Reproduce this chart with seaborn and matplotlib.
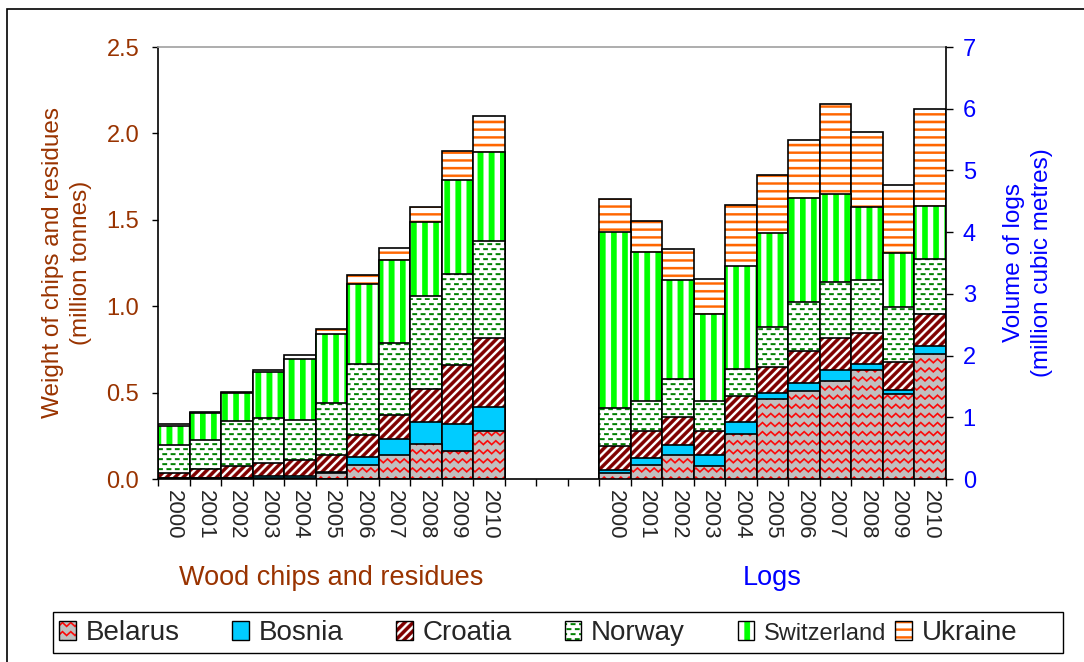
import numpy as np
import pandas as pd
import matplotlib
matplotlib.use('Agg')
import matplotlib.pyplot as plt
import matplotlib.hatch as mhatch
import matplotlib.patches as mpatches
import matplotlib.transforms as mtransforms
from matplotlib.colors import to_rgba
from matplotlib.path import Path
import seaborn as sns

years = [str(y) for y in range(2000, 2011)]
countries = ['Belarus', 'Bosnia', 'Croatia', 'Norway', 'Switzerland', 'Ukraine']

# wood chips and residues (million tonnes)
chips_belarus = [0.005, 0.005, 0.005, 0.003, 0.005, 0.035, 0.083, 0.14, 0.20, 0.164, 0.279]
chips_bosnia = [0.0, 0.0, 0.0, 0.017, 0.012, 0.008, 0.046, 0.091, 0.13, 0.154, 0.135]
chips_croatia = [0.03, 0.05, 0.068, 0.072, 0.094, 0.096, 0.125, 0.14, 0.19, 0.342, 0.404]
chips_norway = [0.16, 0.17, 0.26, 0.26, 0.23, 0.30, 0.414, 0.418, 0.54, 0.528, 0.558]
chips_switzerland = [0.11, 0.155, 0.167, 0.27, 0.355, 0.40, 0.458, 0.477, 0.426, 0.544, 0.514]
chips_ukraine = [0.012, 0.005, 0.004, 0.008, 0.02, 0.03, 0.052, 0.068, 0.09, 0.169, 0.212]

# logs (million cubic metres)
logs_belarus = [0.09, 0.226, 0.39, 0.205, 0.727, 1.29, 1.43, 1.59, 1.76, 1.37, 2.03]
logs_bosnia = [0.06, 0.113, 0.157, 0.183, 0.189, 0.10, 0.12, 0.17, 0.11, 0.08, 0.13]
logs_croatia = [0.39, 0.442, 0.457, 0.393, 0.431, 0.43, 0.52, 0.52, 0.50, 0.44, 0.51]
logs_norway = [0.61, 0.48, 0.62, 0.48, 0.442, 0.65, 0.80, 0.92, 0.86, 0.89, 0.89]
logs_switzerland = [2.86, 2.414, 1.605, 1.406, 1.665, 1.51, 1.68, 1.41, 1.18, 0.88, 0.87]
logs_ukraine = [0.53, 0.50, 0.50, 0.571, 0.981, 0.95, 0.95, 1.46, 1.21, 1.10, 1.56]

chips_slots = list(range(11))
logs_slots = list(range(14, 25))

faces = ['#C0C0C0', '#00CCFF', 'white', 'white', 'white', 'white']
hatches = ['x', None, '/', '.', '|', '-']
hatch_colors = ['#FF0000', '#00CCFF', '#800000', '#008000', '#00FF00', '#FF6600']

brown = '#993300'
blue = '#0000FF'


# excel-like fill patterns, drawn as filled shapes in the 1-inch hatch cell
class PolyHatch:
    char = ''

    def __init__(self, hatch, density):
        self.polys = self.shapes() if (hatch and self.char in hatch) else []
        self.num_vertices = sum(len(p) + 1 for p in self.polys)

    def shapes(self):
        return []

    def set_vertices_and_codes(self, vertices, codes):
        i = 0
        for p in self.polys:
            n = len(p)
            vertices[i:i + n] = p
            vertices[i + n] = p[0]
            codes[i] = Path.MOVETO
            codes[i + 1:i + n] = Path.LINETO
            codes[i + n] = Path.CLOSEPOLY
            i += n + 1


class VStripes(PolyHatch):
    char = '|'

    def shapes(self):
        n, w = 9, 0.055
        return [[(k / n, -0.01), (k / n + w, -0.01), (k / n + w, 1.01), (k / n, 1.01)]
                for k in range(n)]


class HStripes(PolyHatch):
    char = '-'

    def shapes(self):
        n, t = 13, 0.022
        return [[(-0.01, k / n), (1.01, k / n), (1.01, k / n + t), (-0.01, k / n + t)]
                for k in range(n)]


class DiagStripes(PolyHatch):
    char = '/'

    def shapes(self):
        n, w, e = 12, 0.045, 0.02
        out = []
        for k in range(-n - 1, n + 1):
            c = k / n
            out.append([(c - e, -e), (c + w - e, -e), (c + w + 1 + e, 1 + e), (c + 1 + e, 1 + e)])
        return out


class Dashes(PolyHatch):
    char = '.'

    def shapes(self):
        rows, cols, L, T = 20, 12, 0.045, 0.018
        out = []
        for r in range(rows):
            y = r / rows
            off = 0.5 / cols if r % 2 else 0
            for c in range(-1, cols + 1):
                x = c / cols + off
                out.append([(x, y), (x + L, y), (x + L, y + T), (x, y + T)])
        return out


class Zigzag(PolyHatch):
    char = 'x'

    def shapes(self):
        rows, per, amp, t = 11, 12, 0.038, 0.018
        xs = np.arange(-2, 2 * per + 3) / (2 * per)
        out = []
        for r in range(rows):
            y0 = r / rows
            lower = [(x, y0 + (amp if i % 2 else 0)) for i, x in enumerate(xs)]
            upper = [(x, y + t) for x, y in reversed(lower)]
            out.append(lower + upper)
        return out


mhatch._hatch_types = [VStripes, HStripes, DiagStripes, Dashes, Zigzag]


def set_hatch_color(p, c):
    if hasattr(p, 'set_hatchcolor'):
        p.set_hatchcolor(c)
    else:
        p._hatch_color = to_rgba(c)


sns.set_style('white')
plt.rcParams['font.family'] = ['Liberation Sans', 'DejaVu Sans']
plt.rcParams['hatch.linewidth'] = 0.2

fig = plt.figure(figsize=(10.84, 6.62), dpi=100)
ax1 = fig.add_axes([158 / 1084, 1 - 479 / 662, 788 / 1084, 432 / 662])
ax2 = ax1.twinx()


def draw_stack(ax, slots, series):
    df = pd.DataFrame({'slot': slots})
    cum = np.cumsum(np.array(series), axis=0)
    for i in reversed(range(len(countries))):
        df['top'] = cum[i]
        sns.barplot(data=df, x='slot', y='top', native_scale=True, width=1,
                    color=faces[i], saturation=1, edgecolor='black', linewidth=1.2,
                    hatch=hatches[i], errorbar=None, ax=ax)
        for bar in ax.containers[-1]:
            set_hatch_color(bar, hatch_colors[i])


draw_stack(ax1, chips_slots, [chips_belarus, chips_bosnia, chips_croatia,
                              chips_norway, chips_switzerland, chips_ukraine])
draw_stack(ax2, logs_slots, [logs_belarus, logs_bosnia, logs_croatia,
                             logs_norway, logs_switzerland, logs_ukraine])

ax1.set_xlim(-0.5, 24.5)
ax1.set_ylim(0, 2.5)
ax2.set_ylim(0, 7)
ax1.set_xlabel('')
ax2.set_xlabel('')

ax1.set_xticks(np.arange(-0.5, 25, 1))
ax1.set_xticklabels([])
ax1.set_xticks(chips_slots + logs_slots, labels=years + years, minor=True)
ax1.tick_params(axis='x', which='major', direction='out', length=5, width=1, color='black', bottom=True)
ax1.tick_params(axis='x', which='minor', length=0, pad=8, labelsize=16, labelrotation=-90)

ax1.set_yticks(np.arange(0, 2.51, 0.5))
ax1.set_yticklabels([f'{v:.1f}' for v in np.arange(0, 2.51, 0.5)])
ax1.tick_params(axis='y', direction='out', length=4.5, width=1, color='black', left=True,
                labelsize=17, labelcolor=brown, pad=9)
ax2.set_yticks(range(8))
ax2.tick_params(axis='y', direction='out', length=5, width=1, color='black', right=True,
                labelsize=17, labelcolor=blue, pad=7)

for name, sp in ax1.spines.items():
    sp.set_color('black')
    sp.set_linewidth(1.2)
ax1.spines['top'].set_color('#A0A0A0')
ax1.spines['right'].set_visible(False)
for name in ['left', 'top', 'bottom']:
    ax2.spines[name].set_visible(False)
ax2.spines['right'].set_color('black')
ax2.spines['right'].set_linewidth(1.2)

ax1.set_ylabel('Weight of chips and residues\n(million tonnes)', fontsize=17.5,
               color=brown, linespacing=1.4, va='center')
ax1.yaxis.set_label_coords((67 - 158) / 788, 0.5)
ax2.set_ylabel('Volume of logs\n(million cubic metres)', fontsize=17.5,
               color=blue, linespacing=1.4, rotation=90, va='center')
ax2.yaxis.set_label_coords((1028 - 158) / 788, 0.5)

trans = mtransforms.blended_transform_factory(ax1.transData, ax1.transAxes)
ax1.text(np.mean(chips_slots), -0.23, 'Wood chips and residues', transform=trans,
         ha='center', va='center', fontsize=19.5, color=brown)
ax1.text(np.mean(logs_slots), -0.23, 'Logs', transform=trans,
         ha='center', va='center', fontsize=19.5, color=blue)

handles = []
for i, c in enumerate(countries):
    h = mpatches.Patch(facecolor=faces[i], edgecolor='black', linewidth=1, hatch=hatches[i], label=c)
    set_hatch_color(h, hatch_colors[i])
    handles.append(h)

# legend: first five entries in one row, Ukraine squeezed in after Switzerland
leg_kw = dict(fontsize=20, frameon=False, borderaxespad=0, borderpad=0,
              handlelength=0.6, handleheight=0.65, handletextpad=0.35)
leg1 = fig.legend(handles=handles[:5], loc='center left', ncol=5, columnspacing=1.9,
                  bbox_to_anchor=(59 / 1084, 1 - 633 / 662), **leg_kw)
leg1.get_texts()[4].set_fontsize(17)
fig.legend(handles=handles[5:], loc='center left',
           bbox_to_anchor=(895 / 1084, 1 - 633 / 662), **leg_kw)
fig.add_artist(mpatches.Rectangle((53 / 1084, 1 - 653 / 662), 1010 / 1084, 41 / 662,
                                  transform=fig.transFigure, fill=False,
                                  edgecolor='black', linewidth=1))

fig.add_artist(mpatches.Rectangle((7 / 1084, -0.05), 1.1, 1.05 - 9 / 662, transform=fig.transFigure,
                                  fill=False, edgecolor='black', linewidth=1.2))

fig.savefig('out.png', dpi=100)
